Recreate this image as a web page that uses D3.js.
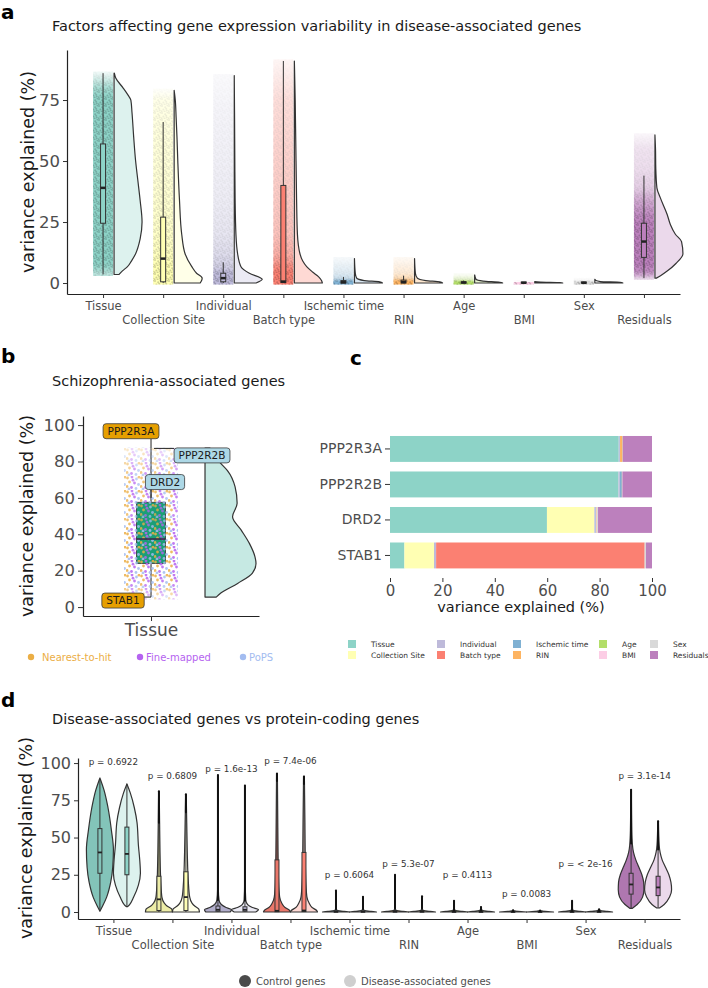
<!DOCTYPE html>
<html>
<head>
<meta charset="utf-8">
<script src="https://cdn.jsdelivr.net/npm/d3@7"></script>
<style>
  body { margin: 0; background: #fff; }
  svg { display: block; font-family: "DejaVu Sans", sans-serif; }
</style>
</head>
<body>
<svg id="fig" width="708" height="988"></svg>
<script>
// ---------------- data ----------------
const factors = ['Tissue', 'Collection Site', 'Individual', 'Batch type', 'Ischemic time', 'RIN', 'Age', 'BMI', 'Sex', 'Residuals'];
const factorColors = ['#8DD3C7', '#FFFFB3', '#BEBADA', '#FB8072', '#80B1D3', '#FDB462', '#B3DE69', '#FCCDE5', '#D9D9D9', '#BC80BD'];

// panel a
const yTicksA = [0, 25, 50, 75];
// [lower whisker, q1, median, q3, upper whisker]
const boxA = [
  [3.5, 24.5, 39, 57, 86], [0, 0.5, 10, 27, 66], [0, 0.5, 2, 4, 8.5], [0, 0.2, 0.6, 40, 91],
  [0, 0, 0.3, 1, 2.5], [0, 0, 0.4, 1.2, 3], [0, 0, 0.2, 0.5, 1], [0, 0, 0.1, 0.2, 0.4],
  [0, 0, 0.1, 0.3, 0.6], [2, 10.5, 17, 24.5, 44]
];
// half violin density, [value, relative width]
const violinA = [
  [[3.5, 0.18], [5, 0.3], [6.7, 0.48], [9, 0.62], [12, 0.77], [18, 0.93], [25, 1], [34, 0.93], [42, 0.85], [50, 0.77], [60, 0.7], [70, 0.64], [75, 0.6], [77, 0.5], [80, 0.32], [84, 0.06], [86, 0.01]],
  [[0, 0.93], [1, 0.98], [2, 1], [4, 0.8], [6.7, 0.63], [12, 0.39], [20, 0.27], [34, 0.19], [50, 0.13], [60, 0.1], [68, 0.07], [75, 0.04], [79, 0]],
  [[0, 0.78], [1.5, 1], [4, 0.54], [6.7, 0.24], [12, 0.12], [20, 0.06], [35, 0.03], [50, 0.02], [70, 0.01], [85, 0]],
  [[0, 1], [1, 0.97], [2.6, 0.86], [4.5, 0.65], [6.7, 0.44], [9, 0.3], [12, 0.2], [20, 0.11], [34, 0.08], [50, 0.06], [75, 0.03], [91, 0]],
  [[0, 1], [0.5, 0.9], [1, 0.35], [2, 0.08], [4, 0.03], [10, 0]],
  [[0, 1], [0.5, 0.9], [1, 0.4], [2, 0.1], [4, 0.03], [10, 0]],
  [[0, 1], [0.3, 0.9], [0.8, 0.3], [1.5, 0.05], [3.3, 0]],
  [[0, 1], [0.2, 0.9], [0.4, 0.2], [0.6, 0]],
  [[0, 1], [0.3, 0.9], [0.6, 0.2], [1, 0.04], [1.5, 0]],
  [[2, 0.05], [3, 0.2], [5, 0.45], [8, 0.75], [12, 1], [17, 0.95], [20, 0.73], [24, 0.55], [28, 0.44], [35, 0.19], [39, 0.07], [47, 0.03], [55, 0.02], [60.7, 0]]
];

// panel b
const yTicksB = [0, 20, 40, 60, 80, 100];
const boxB = [5.5, 24, 37.4, 57.6, 87.3];
const violinB = [[5.5, 0.22], [7.7, 0.31], [13, 0.64], [18.7, 0.93], [24, 1], [27.6, 0.98], [35, 0.87], [42.3, 0.71], [49.6, 0.54], [57, 0.63], [66, 0.59], [75, 0.44], [79.3, 0.3], [83, 0.2], [87.3, 0.1]];
const pointSets = ['Nearest-to-hit', 'Fine-mapped', 'PoPS'];
const pointColors = ['#EBAE45', '#B563F0', '#A3BCF0'];

// panel c
const genesC = ['PPP2R3A', 'PPP2R2B', 'DRD2', 'STAB1'];
const varPPP2R3A = [87.3, 0, 0.4, 0, 0.1, 0.9, 0.1, 0, 0, 11.2];
const varPPP2R2B = [87.2, 0, 0.5, 0, 0.8, 0.1, 0, 0, 0.1, 11.3];
const varDRD2 = [59.9, 18.1, 0.5, 0, 0.2, 0.2, 0, 0.1, 0.4, 20.6];
const varSTAB1 = [5.5, 11.3, 0.8, 79.6, 0, 0, 0, 0, 0.5, 2.3];
const geneSource = ['Nearest-to-hit', 'PoPS', 'PoPS', 'Nearest-to-hit'];
const xTicksC = [0, 20, 40, 60, 80, 100];

// panel d
const yTicksD = [0, 25, 50, 75, 100];
const groupsD = ['Control genes', 'Disease-associated genes'];
const pLabels = ['p = 0.6922', 'p = 0.6809', 'p = 1.6e-13', 'p = 7.4e-06', 'p = 0.6064', 'p = 5.3e-07', 'p = 0.4113', 'p = 0.0083', 'p = < 2e-16', 'p = 3.1e-14'];
const pLabelY = [100.9, 91.3, 96.2, 101.3, 24.8, 32.2, 24.8, 12.1, 32.2, 91.3];
const boxControl = [
  [1, 26, 40, 56, 89], [0, 1, 8.5, 24, 60], [0, 0.5, 1.5, 4, 8], [0, 0.2, 0.8, 35, 93],
  [0, 0, 0.2, 0.8, 2], [0, 0, 0.3, 1, 2.5], [0, 0, 0.1, 0.4, 1], [0, 0, 0.05, 0.2, 0.5],
  [0, 0, 0.1, 0.3, 0.7], [2.5, 12, 18.5, 26, 46]
];
const boxDisease = [
  [3.6, 25, 39, 57, 86], [0, 1, 10, 27, 67], [0, 0.5, 1.5, 3.5, 7.5], [0, 0.3, 1, 40, 91],
  [0, 0, 0.2, 0.8, 2], [0, 0, 0.3, 1, 2.5], [0, 0, 0.1, 0.4, 1], [0, 0, 0.05, 0.2, 0.5],
  [0, 0, 0.1, 0.3, 0.7], [2.7, 11, 16.5, 24, 42]
];
// outlier ranges [lo, hi]
const outControl = [null, [60, 81], [8, 92], [88, 93], [2, 14.5], [2.5, 25], [1, 7.6], [0.5, 1.2], [0.7, 7.5], [46, 82]];
const outDisease = [null, [67, 79], [7.5, 85], [86, 91], [2, 10.3], [2.5, 10.5], [1, 3.4], [0.5, 1], [0.7, 1.8], [42, 61]];
// symmetric violin density, [value, relative half width]
const violinControl = [
  [[0.5, 0], [4, 0.2], [10, 0.5], [20, 0.8], [30, 0.95], [42, 1], [55, 0.85], [70, 0.6], [82, 0.3], [88, 0.08], [90, 0]],
  [[0, 1], [2, 0.95], [4, 0.6], [6, 0.4], [10, 0.22], [20, 0.14], [40, 0.08], [60, 0.05], [81, 0.02]],
  [[0, 0.9], [1.5, 1], [3, 0.6], [5, 0.25], [8, 0.08], [15, 0.03], [92, 0.02]],
  [[0, 1], [1, 0.95], [3, 0.6], [6, 0.35], [10, 0.2], [20, 0.12], [40, 0.08], [60, 0.06], [93, 0.03]],
  [[0, 1], [0.5, 0.6], [1, 0.1], [2, 0.03], [14.5, 0.01]],
  [[0, 1], [0.5, 0.6], [1, 0.1], [2, 0.03], [25, 0.01]],
  [[0, 1], [0.5, 0.6], [1, 0.1], [2, 0.03], [7.6, 0.01]],
  [[0, 1], [0.3, 0.6], [0.6, 0.1], [1.2, 0.02]],
  [[0, 1], [0.5, 0.6], [1, 0.1], [2, 0.03], [7.5, 0.01]],
  [[2.5, 0.1], [5, 0.45], [10, 0.85], [15, 0.95], [20, 0.93], [25, 0.8], [30, 0.58], [35, 0.35], [40, 0.18], [45, 0.1], [55, 0.05], [82, 0.02]]
];
const violinDisease = [
  [[3.6, 0.05], [5, 0.2], [10, 0.5], [18, 0.85], [26, 1], [35, 0.95], [45, 0.85], [60, 0.75], [70, 0.55], [80, 0.25], [86, 0]],
  [[0, 1], [2, 0.95], [4, 0.65], [6, 0.45], [10, 0.28], [20, 0.18], [40, 0.1], [60, 0.06], [79, 0.02]],
  [[0, 0.8], [1.5, 1], [3, 0.55], [5, 0.2], [8, 0.06], [20, 0.02], [85, 0.01]],
  [[0, 1], [1, 0.95], [3, 0.6], [6, 0.38], [10, 0.22], [20, 0.14], [40, 0.09], [60, 0.07], [91, 0.03]],
  [[0, 1], [0.5, 0.6], [1, 0.1], [2, 0.03], [10.3, 0.01]],
  [[0, 1], [0.5, 0.6], [1, 0.1], [2, 0.03], [10.5, 0.01]],
  [[0, 1], [0.5, 0.6], [1, 0.1], [2, 0.03], [3.4, 0.01]],
  [[0, 1], [0.3, 0.6], [0.6, 0.1], [1, 0.02]],
  [[0, 1], [0.5, 0.6], [1, 0.1], [1.8, 0.01]],
  [[2.7, 0.1], [5, 0.45], [10, 0.85], [15, 1], [20, 0.95], [25, 0.8], [30, 0.55], [35, 0.3], [40, 0.15], [45, 0.08], [61, 0.02]]
];

// ---------------- helpers ----------------
const svg = d3.select('#fig');
const defs = svg.append('defs');
const INK = '#333';

function panelLabel(t, x, y) {
  svg.append('text').attr('x', x).attr('y', y).attr('font-size', 20).attr('font-weight', 'bold').attr('fill', '#000').text(t);
}
function title(t, x, y) {
  svg.append('text').attr('x', x).attr('y', y).attr('font-size', 14.5).attr('fill', '#1a1a1a').text(t);
}
function styleAxis(g, size, line) {
  g.attr('font-family', null).attr('font-size', null);
  g.select('.domain').attr('stroke', line ? '#222' : 'none').attr('stroke-width', 1.2);
  g.selectAll('.tick line').attr('stroke', INK).attr('stroke-width', 1);
  g.selectAll('.tick text').attr('fill', '#4d4d4d').attr('font-size', size);
}
function yTitle(x, y) {
  svg.append('text').attr('transform', `translate(${x},${y}) rotate(-90)`).attr('text-anchor', 'middle')
    .attr('font-size', 17.5).attr('fill', '#1a1a1a').text('variance explained (%)');
}
function dotPattern(id, colors, tile, dots, r, op) {
  const p = defs.append('pattern').attr('id', id).attr('patternUnits', 'userSpaceOnUse').attr('width', tile).attr('height', tile);
  dots.forEach((d, i) => p.append('circle').attr('cx', d[0]).attr('cy', d[1]).attr('r', r)
    .attr('fill', colors[i % colors.length]).attr('opacity', op));
}
const dotsFine = [[1, 1], [4.2, 2.2], [2.4, 4.6], [5.8, 5.4], [0.6, 6.3], [6.5, 0.4], [3.6, 6.6], [5.2, 3.8]];
const dotsB = [[1.5, 2], [6, 1], [10.5, 3], [3.5, 6], [8.5, 7], [12.5, 8.5], [1, 10.5], [5.5, 11.5], [10, 12.5], [13, 1.2], [7, 4.2], [3, 13]];

let cloudId = 0;
function cloud(g, xl, xr, y, lo, hi, profile, baseColor, patternId, minOp, gamma) {
  const id = 'cl' + (cloudId++);
  const top = y(hi) - 1.5, bot = y(lo) + 1.5;
  const span = (hi - lo) || 1;
  const grad = defs.append('linearGradient').attr('id', id + 'g').attr('gradientUnits', 'userSpaceOnUse')
    .attr('x1', 0).attr('x2', 0).attr('y1', y(lo)).attr('y2', y(hi));
  profile.forEach(([v, w]) => grad.append('stop')
    .attr('offset', Math.max(0, Math.min(1, (v - lo) / span)))
    .attr('stop-color', '#fff')
    .attr('stop-opacity', Math.max(minOp, Math.min(1, Math.pow(w, gamma) * 1.3))));
  const mask = defs.append('mask').attr('id', id + 'm').attr('maskUnits', 'userSpaceOnUse')
    .attr('x', xl - 2).attr('y', top - 2).attr('width', xr - xl + 4).attr('height', bot - top + 4);
  mask.append('rect').attr('x', xl - 2).attr('y', top - 2).attr('width', xr - xl + 4).attr('height', bot - top + 4)
    .attr('fill', `url(#${id}g)`);
  const c = g.append('g').attr('mask', `url(#${id}m)`);
  if (baseColor) c.append('rect').attr('x', xl).attr('y', top).attr('width', xr - xl).attr('height', bot - top)
    .attr('fill', baseColor).attr('opacity', 1);
  c.append('rect').attr('x', xl).attr('y', top).attr('width', xr - xl).attr('height', bot - top)
    .attr('fill', `url(#${patternId})`);
}
function boxplot(g, cx, bw, s, y, fill, medW) {
  g.append('line').attr('x1', cx).attr('x2', cx).attr('y1', y(s[0])).attr('y2', y(s[4]))
    .attr('stroke', INK).attr('stroke-width', 1);
  const t = y(s[3]), b = y(s[1]);
  g.append('rect').attr('x', cx - bw / 2).attr('width', bw).attr('y', Math.min(t, b - 1)).attr('height', Math.max(1, b - t))
    .attr('fill', fill).attr('stroke', INK).attr('stroke-width', 1);
  g.append('line').attr('x1', cx - bw / 2).attr('x2', cx + bw / 2).attr('y1', y(s[2])).attr('y2', y(s[2]))
    .attr('stroke', '#222').attr('stroke-width', medW);
}

// ---------------- panel a ----------------
panelLabel('a', 1, 19);
title('Factors affecting gene expression variability in disease-associated genes', 52, 31);
const yA = d3.scaleLinear().domain([-4.5, 95.5]).range([294, 50]);
const xA = d3.scalePoint().domain(factors).range([67, 680]).padding(0.6);
const gA = svg.append('g');
factors.forEach((f, i) => dotPattern('pa' + i, [d3.color(factorColors[i]).darker(0.8).formatHex()], 7, dotsFine, 1, 0.75));

gA.append('g').attr('transform', 'translate(67,0)')
  .call(d3.axisLeft(yA).tickValues(yTicksA).tickSize(4).tickSizeOuter(0).tickPadding(3))
  .call(g => styleAxis(g, 16.5, true));
gA.append('g').attr('transform', 'translate(0,294)')
  .call(d3.axisBottom(xA).tickSize(4).tickSizeOuter(0))
  .call(g => styleAxis(g, 11.5, true))
  .call(g => g.selectAll('.tick text').attr('y', (d, i) => i % 2 ? 22 : 8));
yTitle(34, 172);

factors.forEach((f, i) => {
  const cx = xA(f);
  const prof = violinA[i];
  const lo = prof[0][0], hi = prof[prof.length - 1][0];
  cloud(gA, cx - 10, cx + 10, yA, lo, hi, prof, factorColors[i], 'pa' + i, 0.08, 0.45);
  boxplot(gA, cx, 5, boxA[i], yA, factorColors[i], 2.5);
  const x0 = cx + 11;
  gA.append('path')
    .attr('d', d3.area().curve(d3.curveMonotoneY).y(d => yA(d[0])).x0(x0).x1(d => x0 + d[1] * 28)(prof))
    .attr('fill', factorColors[i]).attr('fill-opacity', 0.3)
    .attr('stroke', INK).attr('stroke-width', 1.2).attr('stroke-linejoin', 'round');
});

// ---------------- panel b ----------------
panelLabel('b', 1, 363);
title('Schizophrenia-associated genes', 52, 386);
const yB = d3.scaleLinear().domain([-4.9, 105]).range([616, 416]);
const xB = d3.scaleLinear().domain([0.433, 1.9]).range([83, 259]);
const gB = svg.append('g');
dotPattern('pb', pointColors, 14, dotsB, 1.4, 0.85);

gB.append('g').attr('transform', 'translate(83,0)')
  .call(d3.axisLeft(yB).tickValues(yTicksB).tickSize(5).tickSizeOuter(0).tickPadding(3))
  .call(g => styleAxis(g, 16.5, true));
gB.append('g').attr('transform', 'translate(0,616)')
  .call(d3.axisBottom(xB).tickValues([1]).tickFormat(() => 'Tissue').tickSize(5).tickSizeOuter(0))
  .call(g => styleAxis(g, 17, true));
yTitle(33, 516);

const cxB = xB(1);
// violin
{
  const x0 = xB(1.45);
  gB.append('path')
    .attr('d', d3.area().curve(d3.curveMonotoneY).y(d => yB(d[0])).x0(x0).x1(d => x0 + d[1] * 51)(violinB))
    .attr('fill', '#8DD3C7').attr('fill-opacity', 0.5)
    .attr('stroke', INK).attr('stroke-width', 1.2).attr('stroke-linejoin', 'round');
}
// box + points
gB.append('line').attr('x1', cxB).attr('x2', cxB).attr('y1', yB(boxB[0])).attr('y2', yB(boxB[4]))
  .attr('stroke', INK).attr('stroke-width', 1.1);
gB.append('rect').attr('x', cxB - 14.5).attr('width', 29).attr('y', yB(boxB[3])).attr('height', yB(boxB[1]) - yB(boxB[3]))
  .attr('fill', '#1B9E77').attr('stroke', INK).attr('stroke-width', 0.8);
cloud(gB, cxB - 27, cxB + 27, yB, 5, 87, violinB, null, 'pb', 0.3, 0.7);
gB.append('line').attr('x1', cxB - 14.5).attr('x2', cxB + 14.5).attr('y1', yB(boxB[2])).attr('y2', yB(boxB[2]))
  .attr('stroke', '#3b2a4a').attr('stroke-width', 1.6);

// gene labels
const tissueValues = [varPPP2R3A[0], varPPP2R2B[0], varDRD2[0], varSTAB1[0]];
const labelNudge = [[-20, -17], [48, 7], [14, -16], [-28, 3.5]];
genesC.forEach((gname, i) => {
  const px = cxB + (i === 1 ? 3 : 0), py = yB(tissueValues[i]);
  const lx = px + labelNudge[i][0], ly = py + labelNudge[i][1];
  const grp = gB.append('g');
  const t = grp.append('text').attr('x', lx).attr('y', ly + 3.8).attr('text-anchor', 'middle')
    .attr('font-size', 10.5).attr('fill', '#1a1a1a').text(gname);
  const w = t.node().getComputedTextLength() + 9, h = 15;
  const bx = lx - w / 2, by = ly - h / 2;
  const ex = Math.max(bx, Math.min(bx + w, px)), ey = Math.max(by, Math.min(by + h, py));
  grp.insert('line', 'text').attr('x1', px).attr('y1', py).attr('x2', ex).attr('y2', ey)
    .attr('stroke', '#222').attr('stroke-width', 1);
  grp.insert('rect', 'text').attr('x', bx).attr('y', by).attr('width', w).attr('height', h).attr('rx', 3)
    .attr('fill', geneSource[i] === 'PoPS' ? '#ADD8E6' : '#E69F00').attr('stroke', '#3a3a3a').attr('stroke-width', 0.8);
});

// legend b
const legBx = [31, 140, 243];
pointSets.forEach((s, i) => {
  svg.append('circle').attr('cx', legBx[i]).attr('cy', 657).attr('r', 3.2).attr('fill', pointColors[i]);
  svg.append('text').attr('x', legBx[i] + (i === 0 ? 11 : 6)).attr('y', 660.5).attr('font-size', 10)
    .attr('fill', pointColors[i]).text(s);
});

// ---------------- panel c ----------------
panelLabel('c', 350, 365);
const rowsC = genesC.map((g, i) => {
  const v = [varPPP2R3A, varPPP2R2B, varDRD2, varSTAB1][i];
  const o = { gene: g };
  factors.forEach((f, j) => { o[f] = v[j]; });
  return o;
});
const xC = d3.scaleLinear().domain([0, 100]).range([390, 652]);
const yC = d3.scaleBand().domain(genesC).range([426.4, 578]).padding(0.27);
const gC = svg.append('g');
const stackC = d3.stack().keys(factors)(rowsC);
gC.selectAll('g.layer').data(stackC).join('g').attr('class', 'layer')
  .attr('fill', (d, i) => factorColors[i])
  .selectAll('rect').data(d => d).join('rect')
  .attr('x', d => xC(d[0])).attr('width', d => Math.max(0, xC(d[1]) - xC(d[0])))
  .attr('y', d => yC(d.data.gene)).attr('height', yC.bandwidth());
gC.append('g').attr('transform', 'translate(0,578)')
  .call(d3.axisBottom(xC).tickValues(xTicksC).tickSize(4).tickPadding(3))
  .call(g => styleAxis(g, 15, false));
gC.append('g').attr('transform', 'translate(390,0)')
  .call(d3.axisLeft(yC).tickSize(5).tickPadding(3))
  .call(g => styleAxis(g, 14, false));
svg.append('text').attr('x', 521).attr('y', 612).attr('text-anchor', 'middle').attr('font-size', 14.5)
  .attr('fill', '#1a1a1a').text('variance explained (%)');

// legend c
const legCx = [348, 437, 513, 599, 650];
const legCy = [644, 655];
factors.forEach((f, i) => {
  const col = Math.floor(i / 2), row = i % 2;
  svg.append('rect').attr('x', legCx[col]).attr('y', legCy[row] - 4).attr('width', 8).attr('height', 8)
    .attr('fill', factorColors[i]);
  svg.append('text').attr('x', legCx[col] + 23).attr('y', legCy[row] + 2.7).attr('font-size', 7.5)
    .attr('fill', '#333').text(f);
});

// ---------------- panel d ----------------
panelLabel('d', 1, 707);
title('Disease-associated genes vs protein-coding genes', 52, 724);
const yD = d3.scaleLinear().domain([-4.7, 103.4]).range([919, 758]);
const xD = d3.scalePoint().domain(factors).range([78, 680]).padding(0.6);
const gD = svg.append('g');

gD.append('g').attr('transform', 'translate(78,0)')
  .call(d3.axisLeft(yD).tickValues(yTicksD).tickSize(4).tickSizeOuter(0).tickPadding(3))
  .call(g => styleAxis(g, 16, true));
gD.append('g').attr('transform', 'translate(0,919)')
  .call(d3.axisBottom(xD).tickSize(4).tickSizeOuter(0))
  .call(g => styleAxis(g, 11.5, true))
  .call(g => g.selectAll('.tick text').attr('y', (d, i) => i % 2 ? 22 : 8));
yTitle(32, 838);

factors.forEach((f, i) => {
  const base = d3.color(factorColors[i]);
  const ctrl = base.darker(0.2).formatHex();
  [[violinControl[i], boxControl[i], outControl[i], -13.5, ctrl, 1],
   [violinDisease[i], boxDisease[i], outDisease[i], 13.5, factorColors[i], 0.3]].forEach(([prof, bx, out, off, col, op]) => {
    const cx = xD(f) + off;
    gD.append('path')
      .attr('d', d3.area().curve(d3.curveMonotoneY).y(d => yD(d[0]))
        .x0(d => cx - d[1] * 13.5).x1(d => cx + d[1] * 13.5)(prof))
      .attr('fill', col).attr('fill-opacity', op)
      .attr('stroke', INK).attr('stroke-width', 1.2).attr('stroke-linejoin', 'round');
    boxplot(gD, cx, 4, bx, yD, col, 1.8);
    if (out) gD.append('line').attr('x1', cx).attr('x2', cx).attr('y1', yD(out[0])).attr('y2', yD(out[1]))
      .attr('stroke', '#111').attr('stroke-width', 2).attr('stroke-linecap', 'round');
  });
  gD.append('text').attr('x', xD(f)).attr('y', yD(pLabelY[i]) + 3).attr('text-anchor', 'middle')
    .attr('font-size', 8.8).attr('fill', '#333').text(pLabels[i]);
});

// legend d
const legDx = [245, 350];
const legDcol = ['#4a4a4a', '#cfcfcf'];
groupsD.forEach((gname, i) => {
  svg.append('circle').attr('cx', legDx[i]).attr('cy', 981).attr('r', 6).attr('fill', legDcol[i]);
  svg.append('text').attr('x', legDx[i] + 11).attr('y', 984.5).attr('font-size', 10).attr('fill', '#4d4d4d').text(gname);
});
</script>
</body>
</html>
